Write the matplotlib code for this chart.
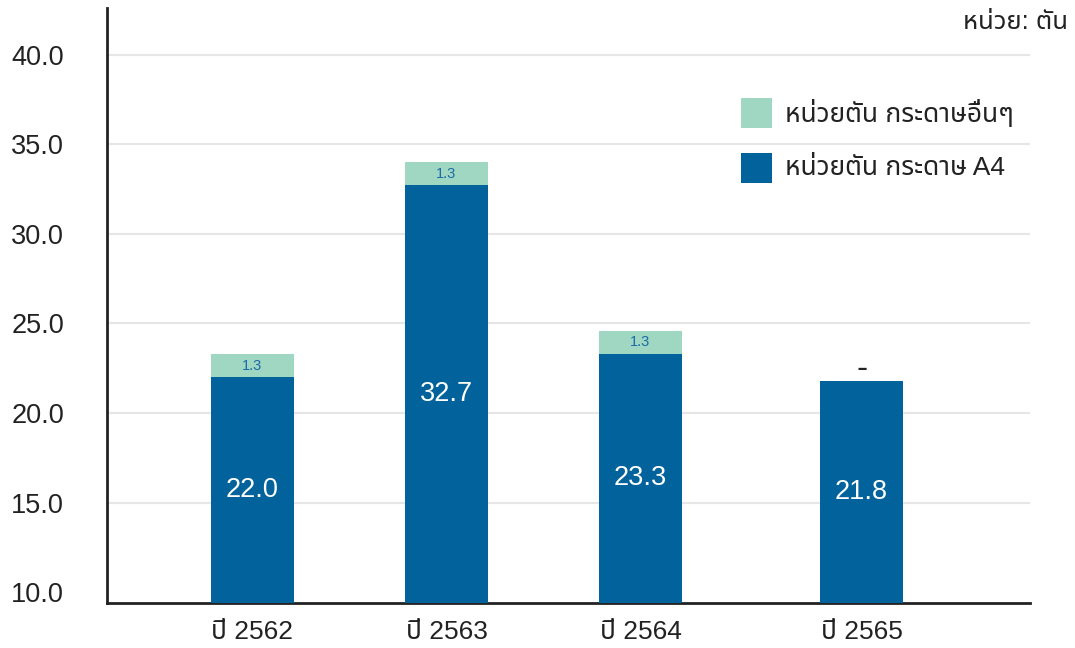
import matplotlib

matplotlib.use("Agg")
import matplotlib.pyplot as plt
from matplotlib import font_manager
from matplotlib.ft2font import FT2Font
from matplotlib.patches import Rectangle

# Data (tonnes of paper per year)
years = ["ปี 2562", "ปี 2563", "ปี 2564", "ปี 2565"]
a4_tonnes = [22.0, 32.7, 23.3, 21.8]
other_tonnes = [1.3, 1.3, 1.3, 0.0]
other_labels = ["1.3", "1.3", "1.3", "-"]
y_ticks = [10, 15, 20, 25, 30, 35, 40]

series_names = ["หน่วยตัน กระดาษอื่นๆ", "หน่วยตัน กระดาษ A4"]
unit_text = "หน่วย: ตัน"


def find_thai_font():
    """Return the name of an installed font that covers Thai glyphs."""
    found = []
    for f in font_manager.fontManager.ttflist:
        try:
            if ord("ห") in FT2Font(f.fname).get_charmap():
                found.append(f.name)
        except Exception:
            continue
    for pref in ["Noto Sans Thai", "Noto Sans Thai Looped", "Sarabun", "Loma", "Garuda", "Waree"]:
        if pref in found:
            return pref
    return found[0] if found else None


thai = find_thai_font()
families = ["Liberation Sans"] + ([thai] if thai else []) + ["DejaVu Sans"]
plt.rcParams["font.family"] = families

color_a4 = "#02629b"
color_other = "#a0d7c2"
text_color = "#222222"
grid_color = "#e6e6e6"

W, H = 1075, 648
fig = plt.figure(figsize=(W / 100, H / 100), dpi=100)
ax = fig.add_axes([107 / W, 1 - 603 / H, (1030 - 107) / W, (603 - 8) / H])

# bar centres; the last year sits a little further to the right
x_pos = [0.0, 1.0, 2.0, 3.14]
bar_w = 0.428
y_min, y_max = 9.4, 42.6

ax.bar(x_pos, a4_tonnes, bar_w, color=color_a4, zorder=3)
ax.bar(x_pos, other_tonnes, bar_w, bottom=a4_tonnes, color=color_other, zorder=3)

ax.set_xlim(-0.75, 4.008)
ax.set_ylim(y_min, y_max)

# value labels
for x, a4, other, lab in zip(x_pos, a4_tonnes, other_tonnes, other_labels):
    ax.text(x, (y_min + a4) / 2, f"{a4:.1f}", ha="center", va="center",
            color="white", fontsize=19.5, zorder=4)
    if other > 0:
        ax.text(x, a4 + other / 2, lab, ha="center", va="center",
                color="#1c6aa6", fontsize=10.5, zorder=4)
    else:
        ax.text(x, a4 + 0.65, lab, ha="center", va="center",
                color=text_color, fontsize=24, zorder=4)

ax.set_yticks(y_ticks)
ax.set_yticklabels([f"{v:.1f}" for v in y_ticks])
ax.set_xticks(x_pos)
ax.set_xticklabels(years)
ax.tick_params(axis="y", length=0, pad=31, labelsize=19.5, labelcolor=text_color)
ax.tick_params(axis="x", length=0, pad=12, labelsize=19, labelcolor=text_color)

ax.grid(axis="y", color=grid_color, linewidth=1.5, zorder=0)
ax.get_ygridlines()[0].set_visible(False)
ax.set_axisbelow(True)
for side in ["top", "right"]:
    ax.spines[side].set_visible(False)
for side in ["left", "bottom"]:
    ax.spines[side].set_color(text_color)
    ax.spines[side].set_linewidth(2)

# legend, drawn by hand without a frame
for i, (name, col) in enumerate(zip(series_names, [color_other, color_a4])):
    top = 98 + i * 55
    fig.patches.append(Rectangle((741 / W, 1 - (top + 30) / H), 31 / W, 30 / H,
                                 facecolor=col, transform=fig.transFigure))
    fig.text(785 / W, 1 - (top + 15) / H, name, ha="left", va="center",
             fontsize=19, color=text_color)

fig.text(1068 / W, 1 - 22 / H, unit_text, ha="right", va="center",
         fontsize=18.5, color=text_color)

fig.savefig("out.png", dpi=100)
